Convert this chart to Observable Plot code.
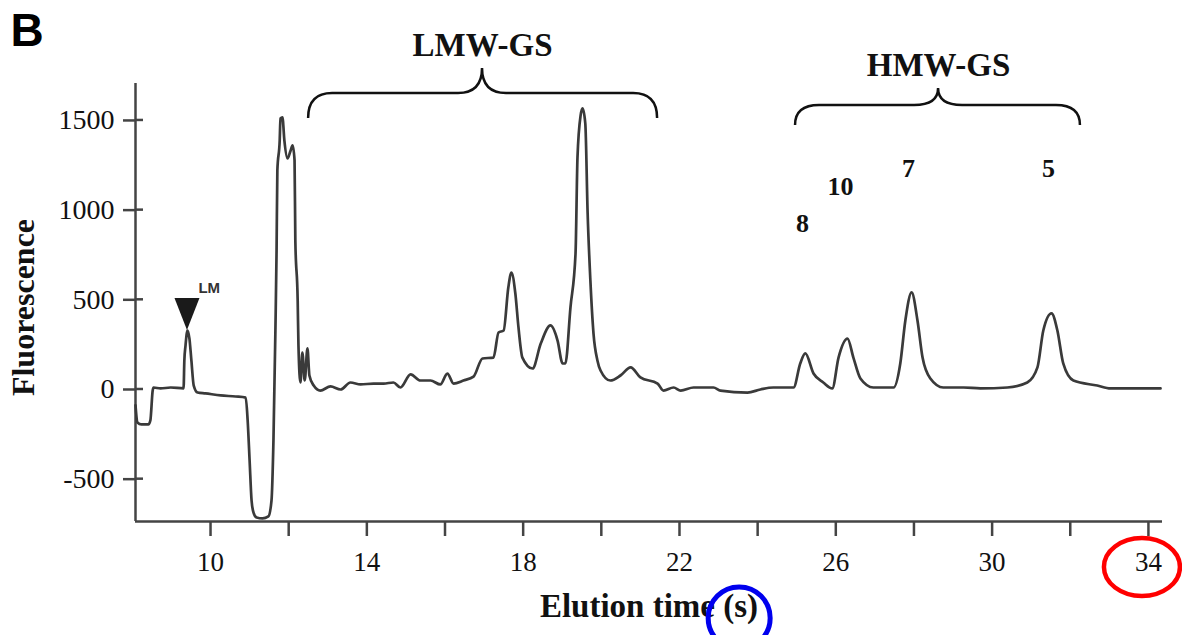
<!DOCTYPE html>
<html><head><meta charset="utf-8">
<script src="https://cdn.jsdelivr.net/npm/d3@7"></script>
<script src="https://cdn.jsdelivr.net/npm/@observablehq/plot@0.6"></script>
<style>
body{margin:0;background:#fff;}
#chart{position:relative;width:1182px;height:635px;overflow:hidden;}
</style>
</head><body><div id="chart"></div>
<script>
// Elution time (s) and fluorescence
const time = [8.08,8.13,8.23,8.41,8.46,8.52,8.54,8.72,8.98,9.31,9.33,9.36,9.41,9.46,9.51,9.57,9.67,9.87,10.26,10.64,10.90,10.95,11.00,11.05,11.10,11.18,11.33,11.48,11.56,11.61,11.66,11.69,11.71,11.77,11.79,11.84,11.89,11.97,12.05,12.10,12.15,12.17,12.23,12.25,12.30,12.35,12.41,12.48,12.53,12.64,12.81,13.07,13.33,13.58,13.84,14.17,14.43,14.68,14.86,15.12,15.37,15.63,15.88,16.06,16.22,16.47,16.73,16.96,17.24,17.37,17.50,17.62,17.70,17.80,17.88,17.98,18.24,18.45,18.70,18.88,19.01,19.08,19.21,19.34,19.39,19.47,19.52,19.59,19.65,19.72,19.80,19.90,19.98,20.23,20.49,20.75,21.00,21.44,21.59,21.85,22.03,22.36,22.87,23.05,23.74,24.07,24.40,24.92,25.09,25.22,25.43,25.68,25.91,26.07,26.30,26.45,26.63,26.96,27.22,27.48,27.65,27.78,27.94,28.09,28.22,28.42,28.75,29.27,29.70,30.39,30.90,31.16,31.31,31.52,31.67,31.82,32.08,32.69,33.03,34.31];
const fluorescence = [-89,-184,-195,-195,-173,-6,11,6,11,6,162,245,329,284,162,22,-17,-22,-33,-39,-45,-173,-396,-619,-686,-714,-719,-708,-619,-284,329,775,1221,1388,1511,1517,1388,1288,1333,1361,1277,831,496,245,39,206,50,229,78,22,-6,17,0,39,28,33,33,39,11,84,50,50,28,89,33,50,72,173,178,318,329,569,652,535,346,178,117,256,357,273,145,145,457,758,1294,1528,1567,1483,981,608,312,162,106,50,78,123,67,33,-6,11,-6,11,11,-6,-17,0,11,11,145,201,89,39,6,178,284,178,61,11,11,11,145,385,541,385,178,61,11,11,6,11,39,123,329,424,329,145,50,22,6,6];

const xTicks = [10,12,14,16,18,20,22,24,26,28,30,32,34];
const xTickLabels = [10,14,18,22,26,30,34];
const yTicks = [-500,0,500,1000,1500];
const xDomain = [8.08, 34.36];
const yDomain = [-736, 1706];

const peakNames = ["8","10","7","5"];
const peakTime = [25.15,26.12,27.86,31.44];
const peakValue = [926,1132,1232,1232];

const groupNames = ["LMW-GS","HMW-GS"];
const groupStart = [12.51,24.97];
const groupEnd = [21.44,32.26];
const groupMid = [16.96,28.63];
const groupLevel = [1650,1584];
const groupLabelValue = [1918,1807];

const markerName = "LM";
const markerTime = 9.41;
const markerValue = 329;
const markerLabelTime = 9.69;
const markerLabelValue = 565;

const panelLetter = "B";
const xLabel = "Elution time (s)";
const yLabel = "Fluorescence";

const trace = time.map((t,i)=>({t, v: fluorescence[i]}));
const peaks = peakNames.map((n,i)=>({n, t: peakTime[i], v: peakValue[i]}));
const groups = groupNames.map((n,i)=>({n, x0: groupStart[i], x1: groupEnd[i], xm: groupMid[i], lv: groupLevel[i], tv: groupLabelValue[i]}));

const serif = "'Liberation Serif','DejaVu Serif',serif";
const axisColor = "#444";

const chart = Plot.plot({
  width: 1182, height: 635,
  marginLeft: 135, marginRight: 20, marginTop: 83, marginBottom: 114,
  style: {fontFamily: serif, background: "#fff", color: "#111", overflow: "visible"},
  x: {domain: xDomain, axis: null},
  y: {domain: yDomain, axis: null},
  marks: [
    Plot.ruleX([xDomain[0]], {stroke: axisColor, strokeWidth: 2.5}),
    Plot.ruleY([yDomain[0]], {stroke: axisColor, strokeWidth: 2.5}),
    Plot.axisY({ticks: yTicks, tickSize: 12, tickPadding: 9, tickFormat: d => String(d), fontSize: 28, stroke: axisColor, strokeWidth: 2.5, fill: "#111", label: null}),
    Plot.axisX({ticks: xTicks, tickSize: 15, tickPadding: 15, tickFormat: d => xTickLabels.includes(d) ? String(d) : "", fontSize: 27, stroke: axisColor, strokeWidth: 2.5, fill: "#111", label: null}),
    Plot.line(trace, {x: "t", y: "v", stroke: "#3a3a3a", strokeWidth: 2.7, curve: "monotone-x"}),
    Plot.text(peaks, {x: "t", y: "v", text: "n", fontSize: 26, fontWeight: "bold", fill: "#111"}),
    Plot.text(groups, {x: "xm", y: "tv", text: "n", fontSize: 33, fontWeight: "bold", fill: "#111"}),
    Plot.text([markerName], {x: () => markerLabelTime, y: () => markerLabelValue, text: d => d, textAnchor: "start", fontSize: 15, fontWeight: "bold", fontFamily: "'Liberation Sans',Arial,sans-serif", fill: "#333"}),
    Plot.text([xLabel], {text: d => d, frameAnchor: "bottom", textAnchor: "middle", dx: 0, dy: 95, fontSize: 33, fontWeight: "bold", fill: "#111"}),
    Plot.text([yLabel], {text: d => d, frameAnchor: "left", textAnchor: "middle", dx: -112, dy: 5, rotate: -90, fontSize: 32, fontWeight: "bold", fill: "#111"}),
    Plot.text([panelLetter], {text: d => d, frameAnchor: "top-left", dx: -125, dy: -38, textAnchor: "start", lineAnchor: "bottom", fontSize: 46, fontWeight: "bold", fontFamily: "'Liberation Sans',Arial,sans-serif", fill: "#000"})
  ]
});

// annotations drawn through the plot's own scales
const sx = chart.scale("x"), sy = chart.scale("y");
const fx = sx.apply ? v => sx.apply(v) : d3.scaleLinear(sx.domain, sx.range);
const fy = sy.apply ? v => sy.apply(v) : d3.scaleLinear(sy.domain, sy.range);
const svg = d3.select(chart.tagName.toLowerCase() === "svg" ? chart : chart.querySelector("svg"));
const g = svg.append("g");

// inner half of y ticks (the reference ticks cross the axis)
yTicks.forEach(v => {
  const x0 = fx(xDomain[0]), y = fy(v);
  g.append("line").attr("x1", x0).attr("x2", x0 + 8).attr("y1", y).attr("y2", y)
    .attr("stroke", axisColor).attr("stroke-width", 2.5);
});

groups.forEach((d, i) => {
  const x0 = fx(d.x0), x1 = fx(d.x1), xm = fx(d.xm), yH = fy(d.lv);
  const drop = i === 0 ? 25 : 20, rise = i === 0 ? 25 : 17, r = 24;
  const p = `M${x0},${yH+drop} Q${x0},${yH} ${x0+r},${yH} L${xm-r},${yH} Q${xm},${yH} ${xm},${yH-rise} Q${xm},${yH} ${xm+r},${yH} L${x1-r},${yH} Q${x1},${yH} ${x1},${yH+drop}`;
  g.append("path").attr("d", p).attr("fill", "none").attr("stroke", "#111").attr("stroke-width", 2.5);
});

// LM marker (inverted triangle, tip on the peak)
{
  const tx = fx(markerTime), ty = fy(markerValue);
  g.append("path").attr("d", `M${tx},${ty} L${tx-12.5},${ty-32} L${tx+12.5},${ty-32} Z`).attr("fill", "#1a1a1a");
}

// highlight rings
g.append("ellipse").attr("cx", fx(34) - 6).attr("cy", fy(yDomain[0]) + 46).attr("rx", 38).attr("ry", 29)
  .attr("fill", "none").attr("stroke", "#ff0000").attr("stroke-width", 4.5);
g.append("ellipse").attr("cx", fx(23.54)).attr("cy", fy(yDomain[0]) + 97).attr("rx", 31).attr("ry", 31)
  .attr("fill", "none").attr("stroke", "#0000ee").attr("stroke-width", 5);

document.getElementById("chart").appendChild(chart);
</script>
</body></html>
